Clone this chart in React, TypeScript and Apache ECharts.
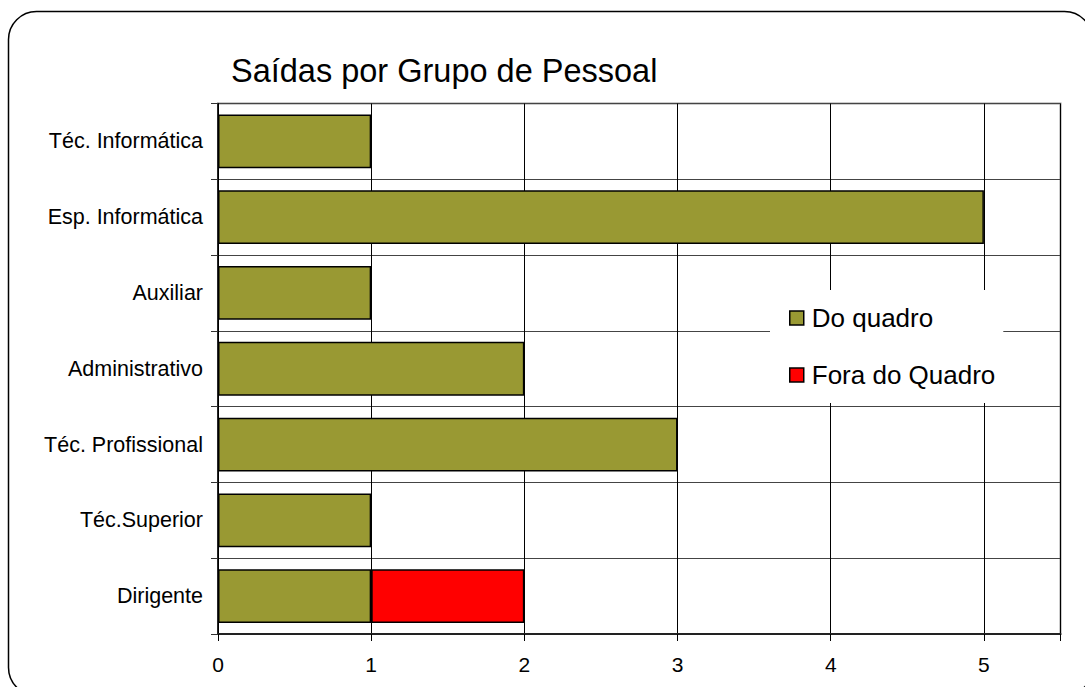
import React, { useEffect, useRef } from "react";
import * as echarts from "echarts";

const categories = [
  "Dirigente",
  "Téc.Superior",
  "Téc. Profissional",
  "Administrativo",
  "Auxiliar",
  "Esp. Informática",
  "Téc. Informática",
];
const doQuadro = [1, 1, 3, 2, 1, 5, 1];
const foraDoQuadro: (number | null)[] = [1, null, null, null, null, null, null];
const seriesNames = ["Do quadro", "Fora do Quadro"];
const xTicks = [0, 1, 2, 3, 4, 5];

const FONT = "Liberation Sans, Arial, sans-serif";

export default function App() {
  const ref = useRef<HTMLDivElement>(null);
  useEffect(() => {
    if (!ref.current) return;
    const chart = echarts.init(ref.current, null, { renderer: "svg" });
    chart.setOption({
      animation: false,
      backgroundColor: "#ffffff",
      title: {
        text: "Saídas por Grupo de Pessoal",
        left: 226,
        top: 49,
        textStyle: { fontFamily: FONT, fontSize: 32.5, fontWeight: "normal", color: "#000" },
      },
      graphic: [
        {
          type: "rect",
          shape: { x: 8.5, y: 11.5, width: 1084, height: 684, r: 28 },
          style: { fill: "none", stroke: "#000", lineWidth: 1.5 },
          z: 10,
        },
      ],
      legend: {
        orient: "vertical",
        left: 770,
        top: 290,
        padding: [15, 8, 15, 19],
        itemGap: 31,
        itemWidth: 14,
        itemHeight: 14,
        icon: "rect",
        backgroundColor: "#ffffff",
        data: seriesNames,
        textStyle: {
          fontFamily: FONT,
          fontSize: 26,
          lineHeight: 26,
          color: "#000",
          padding: [0, 0, 0, 3],
        },
        itemStyle: { borderColor: "#000", borderWidth: 1.5 },
        z: 5,
      },
      grid: {
        left: 218,
        top: 103.5,
        right: 24.5,
        bottom: 53,
        show: true,
        borderColor: "#999",
        borderWidth: 2,
        backgroundColor: "transparent",
      },
      xAxis: {
        type: "value",
        min: 0,
        max: 5.5,
        interval: 1,
        axisLine: { show: true, lineStyle: { color: "#222", width: 2 } },
        axisTick: { show: true, length: 7, lineStyle: { color: "#000" } },
        splitLine: { show: true, lineStyle: { color: "#000", width: 1 } },
        axisLabel: {
          fontFamily: FONT,
          fontSize: 21,
          color: "#000",
          margin: 20,
          formatter: (v: number) => (xTicks.includes(v) ? String(v) : ""),
        },
      },
      yAxis: {
        type: "category",
        data: categories,
        axisLine: { show: true, lineStyle: { color: "#000", width: 1.5 } },
        axisTick: { show: true, length: 7, lineStyle: { color: "#333" } },
        splitLine: { show: true, lineStyle: { color: "#444", width: 1 } },
        axisLabel: { fontFamily: FONT, fontSize: 21.5, color: "#000", margin: 15 },
      },
      series: [
        {
          name: seriesNames[0],
          type: "bar",
          stack: "total",
          data: doQuadro,
          barCategoryGap: "29%",
          itemStyle: { color: "#999933", borderColor: "#000", borderWidth: 1.5 },
        },
        {
          name: seriesNames[1],
          type: "bar",
          stack: "total",
          data: foraDoQuadro,
          barCategoryGap: "29%",
          itemStyle: { color: "#ff0000", borderColor: "#000", borderWidth: 1.5 },
        },
      ],
    });
    return () => chart.dispose();
  }, []);
  return (
    <div
      ref={ref}
      style={{ position: "fixed", left: 0, top: 0, width: 1085, height: 687 }}
    />
  );
}
